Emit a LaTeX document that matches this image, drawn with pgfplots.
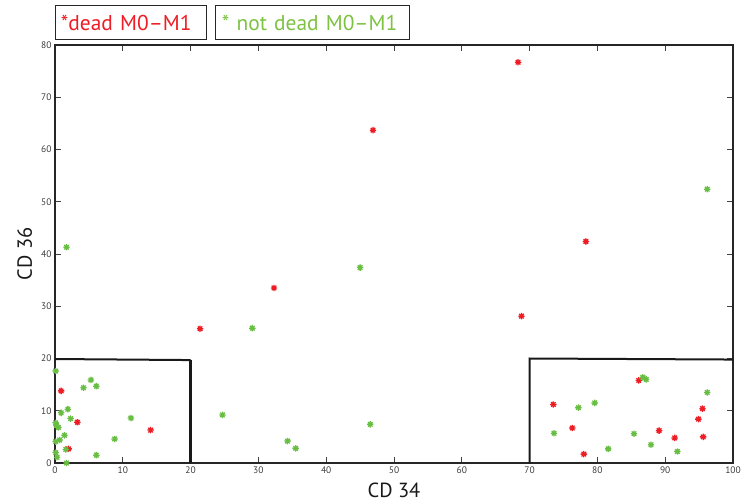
\documentclass[border=0pt]{standalone}
\usepackage{fontspec}
\setmainfont{PT Sans}
\usepackage{pgfplots}
\pgfplotsset{compat=1.18}
\definecolor{myred}{RGB}{238,28,36}
\definecolor{mygreen}{RGB}{104,190,66}
\definecolor{legreen}{RGB}{125,194,66}
\definecolor{tickgray}{RGB}{60,60,60}
\pgfdeclareplotmark{mstar}{%
  \pgfpathmoveto{\pgfqpoint{-\pgfplotmarksize}{0pt}}\pgfpathlineto{\pgfqpoint{\pgfplotmarksize}{0pt}}%
  \pgfpathmoveto{\pgfqpoint{0pt}{-\pgfplotmarksize}}\pgfpathlineto{\pgfqpoint{0pt}{\pgfplotmarksize}}%
  \pgfpathmoveto{\pgfqpoint{-0.707\pgfplotmarksize}{-0.707\pgfplotmarksize}}\pgfpathlineto{\pgfqpoint{0.707\pgfplotmarksize}{0.707\pgfplotmarksize}}%
  \pgfpathmoveto{\pgfqpoint{-0.707\pgfplotmarksize}{0.707\pgfplotmarksize}}\pgfpathlineto{\pgfqpoint{0.707\pgfplotmarksize}{-0.707\pgfplotmarksize}}%
  \pgfusepathqstroke}

\pgfplotstableread{
x y
0.9 13.8
3.3 7.8
14.1 6.3
2.0 2.7
21.4 25.7
32.3 33.5
46.9 63.7
68.3 76.7
68.8 28.1
78.3 42.4
73.5 11.2
76.3 6.7
78.0 1.7
86.1 15.8
89.1 6.2
91.4 4.8
94.9 8.4
95.5 10.4
95.6 5.0
}\deadtable

\pgfplotstableread{
x y
0.1 17.6
5.3 15.9
4.2 14.4
6.1 14.7
1.9 10.3
0.9 9.6
2.3 8.5
0.1 7.7
0.2 7.2
0.5 6.8
11.2 8.6
24.7 9.2
1.4 5.3
0.7 4.4
0.1 4.1
8.8 4.6
0.1 2.0
1.6 2.6
0.3 1.1
6.1 1.5
1.7 0.0
1.7 41.3
29.1 25.8
45.0 37.4
34.3 4.2
35.5 2.8
46.5 7.4
96.2 52.4
73.6 5.7
77.2 10.6
79.6 11.5
81.6 2.7
85.4 5.6
86.7 16.4
87.2 16.0
87.9 3.5
91.8 2.2
96.2 13.5
}\alivetable

\begin{document}
\begin{tikzpicture}
\useasboundingbox (-55bp,-40bp) rectangle (686bp,463bp);
\begin{axis}[
  at={(0,0)}, anchor=south west,
  scale only axis, width=678bp, height=418bp,
  xmin=0, xmax=100, ymin=0, ymax=80,
  xtick={0,10,...,100}, ytick={0,10,...,80},
  tick align=inside, major tick length=6bp,
  axis line style={line width=1.1bp, black!85},
  tick style={line width=1bp, black!75},
  ticklabel style={font=\fontsize{9.5}{11}\selectfont, text=tickgray},
  /pgf/number format/assume math mode=true,
  xlabel={CD 34}, ylabel={CD 36},
  label style={font=\fontsize{20.5}{24}\selectfont, text=black!90},
  xlabel style={at={(axis description cs:0.5,0)}, anchor=base, yshift=-34bp},
  ylabel style={at={(axis description cs:-0.034,0.5)}, anchor=base},
  clip=false,
]
\addplot[line width=2bp, black!90] coordinates {(0,19.9) (20,19.7)};
\addplot[line width=3bp, black!90] coordinates {(20,19.8) (20,0)};
\addplot[line width=2bp, black!90] coordinates {(70,0) (70,20.0) (100,19.8)};
\addplot[only marks, mark=mstar, mark size=3.2bp, mark options={line width=1.3bp, myred}] table[x=x,y=y] {\deadtable};
\addplot[only marks, mark=mstar, mark size=3.2bp, mark options={line width=1.3bp, mygreen}] table[x=x,y=y] {\alivetable};
\node[draw=black!85, line width=0.9bp, anchor=south west, minimum width=151bp, minimum height=34bp,
  inner xsep=5.5bp, text width=140bp, align=left, text=myred, font=\fontsize{21.5}{24}\selectfont,
  yshift=5bp] at (rel axis cs:0,1) {*dead M0--M1};
\node[draw=black!85, line width=0.9bp, anchor=south west, minimum width=194bp, minimum height=34bp,
  inner xsep=6.5bp, text width=181bp, align=left, text=legreen, font=\fontsize{21.5}{24}\selectfont,
  xshift=160bp, yshift=5bp] at (rel axis cs:0,1) {* not dead M0--M1};
\end{axis}
\end{tikzpicture}
\end{document}
